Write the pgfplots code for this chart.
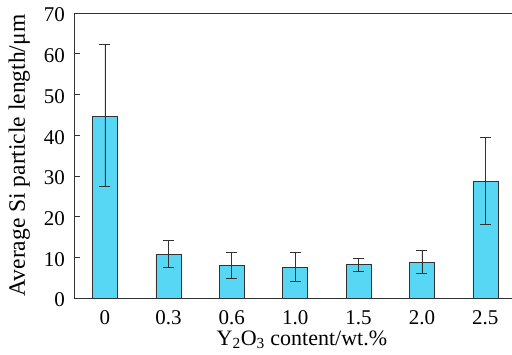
\documentclass[border=0pt]{standalone}
\usepackage{pgfplots}
\pgfplotsset{compat=1.18}
\usepackage{fontspec}
\setmainfont{Liberation Serif}
\definecolor{barfill}{RGB}{88,215,245}
\definecolor{edge}{RGB}{50,50,50}
\begin{document}
\begin{tikzpicture}
\begin{axis}[
 scale only axis, width=437.7pt, height=285pt,
 xmin=-0.484, xmax=6.42, ymin=0, ymax=70,
 axis x line*=bottom, axis y line*=left,
 axis line style={-, edge, line width=0.8pt},
 ytick={0,10,...,70}, xtick={0,...,6}, xticklabels={0,0.3,0.6,1.0,1.5,2.0,2.5},
 tick align=inside, major tick length=6pt,
 x tick style={draw=none},
 y tick style={edge, line width=0.6pt},
 tick label style={font=\fontsize{21}{24}\selectfont},
 yticklabel style={xshift=-6pt, yshift=-2pt},
 xticklabel style={yshift=-3pt},
 /pgf/number format/assume math mode=true,
 xlabel={Y\textsubscript{2}O\textsubscript{3} content/wt.\%},
 ylabel={Average Si particle length/μm},
 xlabel style={font=\fontsize{22}{24}\selectfont, at={(axis description cs:0.52,-0.165)}, anchor=base},
 ylabel style={font=\fontsize{23.5}{26}\selectfont, at={(axis description cs:-0.126,0.5)}, anchor=center},
 ybar, bar width=25pt,
]
\draw[edge, line width=0.8pt] (rel axis cs:0,1) -- (rel axis cs:1,1);
\addplot[ybar, bar width=25pt, fill=barfill, draw=edge, line width=0.7pt,
  error bars/.cd, y dir=both, y explicit,
  error bar style={edge, line width=0.8pt},
  error mark options={edge, rotate=90, mark size=5.5pt, line width=0.8pt}]
 table[x=x, y=y, y error plus=ep, y error minus=em]{
x y ep em
0 44.7 17.5 17.2
1 10.8 3.3 3.3
2 7.9 3.4 3.2
3 7.5 3.8 3.4
4 8.2 1.6 1.7
5 8.7 2.9 2.7
6 28.7 10.8 10.5
};
\end{axis}
\pgfresetboundingbox
\useasboundingbox (-74.3pt,-56pt) rectangle (437.7pt,298pt);
\end{tikzpicture}
\end{document}
